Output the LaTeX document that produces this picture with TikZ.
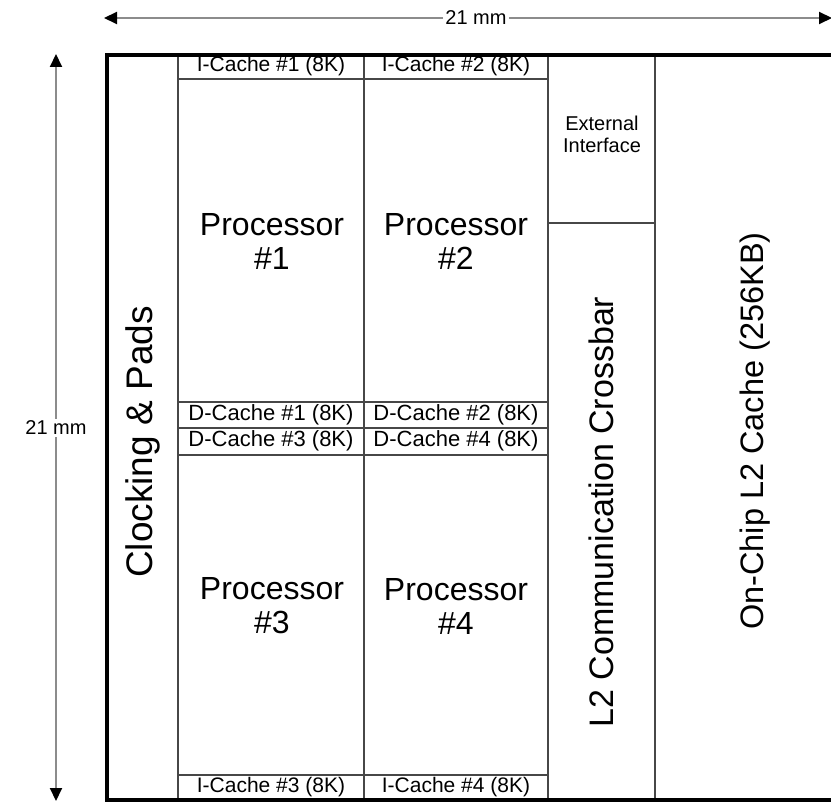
\documentclass[tikz,border=0pt]{standalone}
\usepackage{fontspec}
\setmainfont{Liberation Sans}
\usetikzlibrary{arrows.meta}
\newcommand{\fs}[1]{\fontsize{#1}{#1}\selectfont}
\begin{document}
\begin{tikzpicture}[x=1pt,y=-1pt,
  gridline/.style={line width=1.4pt,draw=black!72},
  outerbox/.style={line width=3.6pt,draw=black},
  dimline/.style={line width=2pt,draw=black!45,{Triangle[length=13pt,width=12pt,color=black]}-{Triangle[length=13pt,width=12pt,color=black]}},
  dimlabel/.style={fill=white,inner sep=2pt,font=\fs{20}},
  cachelabel/.style={inner sep=0pt,font=\fs{21}},
  dcachelabel/.style={inner sep=0pt,font=\fs{22}},
  proclabel/.style={inner sep=0pt,font=\fs{32},align=center},
  biglabel/.style={inner sep=0pt,rotate=90},
  smalllabel/.style={inner sep=0pt,font=\fs{20},align=center}]
\useasboundingbox (0,0) rectangle (831,802);

% named corners
\coordinate (tl) at (107,55);
\coordinate (br) at (860,800);
\coordinate (dimT1) at (104,18);
\coordinate (dimT2) at (832,18);
\coordinate (dimL1) at (56,54);
\coordinate (dimL2) at (56,801);

% grid lines
\draw[gridline] (178,55) -- (178,800);
\draw[gridline] (364,55) -- (364,800);
\draw[gridline] (548,55) -- (548,800);
\draw[gridline] (655,55) -- (655,800);
\draw[gridline] (178,79) -- (548,79);
\draw[gridline] (178,402) -- (548,402);
\draw[gridline] (178,428) -- (548,428);
\draw[gridline] (178,455) -- (548,455);
\draw[gridline] (178,775) -- (548,775);
\draw[gridline] (548,223) -- (655,223);

% outer box
\draw[outerbox] (tl) rectangle (br);

% cache labels
\node[cachelabel] (ic1) at (271,66) {I-Cache \#1 (8K)};
\node[cachelabel] (ic2) at (456,66) {I-Cache \#2 (8K)};
\node[dcachelabel] (dc1) at (271,415) {D-Cache \#1 (8K)};
\node[dcachelabel] (dc2) at (456,415) {D-Cache \#2 (8K)};
\node[dcachelabel] (dc3) at (271,441) {D-Cache \#3 (8K)};
\node[dcachelabel] (dc4) at (456,441) {D-Cache \#4 (8K)};
\node[cachelabel] (ic3) at (271,787) {I-Cache \#3 (8K)};
\node[cachelabel] (ic4) at (456,787) {I-Cache \#4 (8K)};

% processors
\node[proclabel] (p1) at (272,241) {Processor\\[2pt]\#1};
\node[proclabel] (p2) at (456,241) {Processor\\[2pt]\#2};
\node[proclabel] (p3) at (272,606) {Processor\\[2pt]\#3};
\node[proclabel] (p4) at (456,606) {Processor\\[2pt]\#4};

% other blocks
\node[biglabel,font=\fs{37}] (clk) at (143,442) {Clocking \& Pads};
\node[smalllabel] (ext) at (602,134) {External\\[2pt]Interface};
\node[biglabel,font=\fs{34}] (xbar) at (601,512) {L2 Communication Crossbar};
\node[biglabel,font=\fs{32.5}] (l2) at (755,431) {On-Chip L2 Cache (256KB)};

% dimensions
\draw[dimline] (dimT1) -- (dimT2);
\node[dimlabel] (dimTl) at (476,18) {21 mm};
\draw[dimline] (dimL1) -- (dimL2);
\node[dimlabel] (dimLl) at (56,428) {21 mm};
\end{tikzpicture}
\end{document}
